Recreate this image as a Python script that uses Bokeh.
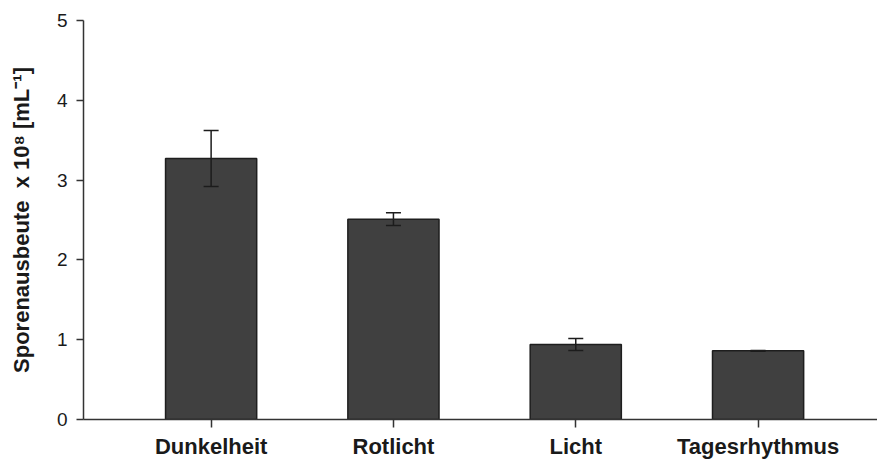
from bokeh.plotting import figure
from bokeh.models import Range1d, FixedTicker, ColumnDataSource, Whisker, TeeHead
from bokeh.embed import file_html
from bokeh.resources import INLINE

# Spore yield per light condition (x 10^8 per mL), mean and error
categories = ["Dunkelheit", "Rotlicht", "Licht", "Tagesrhythmus"]
yield_mean = [3.27, 2.51, 0.94, 0.86]
yield_err = [0.35, 0.08, 0.075, 0.005]
y_ticks = [0, 1, 2, 3, 4, 5]

x_pos = list(range(len(categories)))
src = ColumnDataSource(dict(
    x=x_pos,
    top=yield_mean,
    upper=[m + e for m, e in zip(yield_mean, yield_err)],
    lower=[m - e for m, e in zip(yield_mean, yield_err)],
))

p = figure(
    width=877, height=461,
    output_backend="svg", toolbar_location=None,
    x_range=Range1d(-0.7, 3.655), y_range=Range1d(0, 5),
    min_border_left=83, min_border_right=0,
    min_border_top=20, min_border_bottom=41,
)
p.background_fill_color = "white"
p.border_fill_color = "white"
p.outline_line_color = None
p.grid.visible = False

p.vbar(x="x", top="top", bottom=0, width=0.5, source=src,
       fill_color="#404040", line_color="#1e1e1e", line_width=1.5)

# error bars drawn above the bars so the lower half shows on the fill
err = Whisker(
    base="x", upper="upper", lower="lower", source=src, level="overlay",
    line_color="#1c1c1c", line_width=1.5,
    upper_head=TeeHead(size=15, line_color="#1c1c1c", line_width=1.5),
    lower_head=TeeHead(size=15, line_color="#1c1c1c", line_width=1.5),
)
p.add_layout(err)

font = "Liberation Sans"

xa = p.xaxis[0]
xa.ticker = FixedTicker(ticks=x_pos)
xa.major_label_overrides = {i: c for i, c in zip(x_pos, categories)}
xa.major_tick_in = 0
xa.major_tick_out = 8
xa.minor_tick_line_color = None
xa.major_label_standoff = 6
xa.major_label_text_font = font
xa.major_label_text_font_size = "22px"
xa.major_label_text_font_style = "bold"
xa.major_label_text_color = "#1a1a1a"
xa.axis_line_color = "#333333"
xa.axis_line_width = 1.5
xa.major_tick_line_color = "#333333"
xa.major_tick_line_width = 1.5

ya = p.yaxis[0]
ya.ticker = FixedTicker(ticks=y_ticks)
ya.major_tick_in = 0
ya.major_tick_out = 7
ya.minor_tick_line_color = None
ya.major_label_standoff = 9
ya.major_label_text_font = font
ya.major_label_text_font_size = "19px"
ya.major_label_text_color = "#1a1a1a"
ya.axis_line_color = "#333333"
ya.axis_line_width = 1.5
ya.major_tick_line_color = "#333333"
ya.major_tick_line_width = 1.5
ya.axis_label = "Sporenausbeute\u00a0\u00a0x 10\u2078 [mL\u207b\u00b9]"
ya.axis_label_text_font = font
ya.axis_label_text_font_size = "22px"
ya.axis_label_text_font_style = "bold"
ya.axis_label_text_color = "#1a1a1a"
ya.axis_label_standoff = 20

open("out.html", "w").write(file_html(p, INLINE))
